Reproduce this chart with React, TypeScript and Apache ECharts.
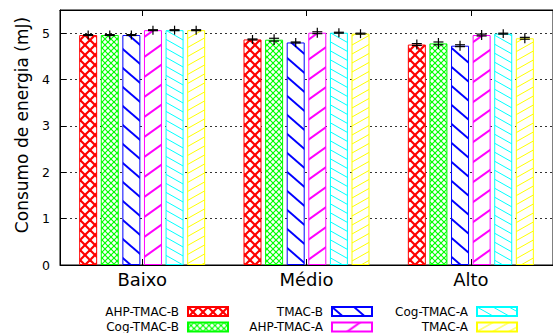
import React, { useEffect, useRef } from "react";
import * as echarts from "echarts";

const categories = ["Baixo", "Médio", "Alto"];
const seriesNames = ["AHP-TMAC-B", "Cog-TMAC-B", "TMAC-B", "AHP-TMAC-A", "Cog-TMAC-A", "TMAC-A"];
const ahpTmacB = [4.96, 4.865, 4.755];
const cogTmacB = [4.96, 4.86, 4.78];
const tmacB = [4.96, 4.8, 4.73];
const ahpTmacA = [5.065, 5.01, 4.96];
const cogTmacA = [5.065, 5.01, 4.99];
const tmacA = [5.065, 4.99, 4.89];
const ahpTmacBErr = [0.01, 0.01, 0.02];
const cogTmacBErr = [0.01, 0.03, 0.03];
const tmacBErr = [0.01, 0.01, 0.02];
const ahpTmacAErr = [0.01, 0.02, 0.02];
const cogTmacAErr = [0.01, 0.01, 0.01];
const tmacAErr = [0.01, 0.01, 0.02];
const yTicks = [0, 1, 2, 3, 4, 5];

const values = [ahpTmacB, cogTmacB, tmacB, ahpTmacA, cogTmacA, tmacA];
const errors = [ahpTmacBErr, cogTmacBErr, tmacBErr, ahpTmacAErr, cogTmacAErr, tmacAErr];
const colors = ["#ff0000", "#00ff00", "#0000ff", "#ff00ff", "#00ffff", "#ffff00"];

type Kind = "cross" | "back" | "fwd";
const patternSpecs: { kind: Kind; w: number; h: number; lw: number }[] = [
  { kind: "cross", w: 10, h: 10, lw: 2.2 },
  { kind: "cross", w: 6, h: 6, lw: 1.2 },
  { kind: "back", w: 22, h: 19, lw: 2 },
  { kind: "fwd", w: 28, h: 20, lw: 2 },
  { kind: "back", w: 16, h: 9, lw: 1 },
  { kind: "fwd", w: 16, h: 9, lw: 1 },
];

function makePattern(color: string, spec: { kind: Kind; w: number; h: number; lw: number }) {
  const { kind, w, h, lw } = spec;
  const c = document.createElement("canvas");
  c.width = w;
  c.height = h;
  const ctx = c.getContext("2d")!;
  ctx.fillStyle = "#ffffff";
  ctx.fillRect(0, 0, w, h);
  ctx.strokeStyle = color;
  ctx.lineWidth = lw;
  const drawBack = () => {
    for (let k = -1; k <= 1; k++) {
      ctx.beginPath();
      ctx.moveTo(-w, -h + k * h);
      ctx.lineTo(2 * w, 2 * h + k * h);
      ctx.stroke();
    }
  };
  const drawFwd = () => {
    for (let k = -1; k <= 1; k++) {
      ctx.beginPath();
      ctx.moveTo(-w, 2 * h + k * h);
      ctx.lineTo(2 * w, -h + k * h);
      ctx.stroke();
    }
  };
  if (kind === "cross") {
    drawBack();
    drawFwd();
  } else if (kind === "back") drawBack();
  else drawFwd();
  return { image: c, repeat: "repeat", imageWidth: w, imageHeight: h };
}

const BAR_W = 18;
const PITCH = 21.6;

export default function App() {
  const ref = useRef<HTMLDivElement>(null);
  useEffect(() => {
    if (!ref.current) return;
    const chart = echarts.init(ref.current, undefined, { renderer: "svg" });
    const font = "DejaVu Sans";
    const barSeries = seriesNames.map((name, i) => ({
      type: "bar",
      name,
      data: values[i],
      barWidth: BAR_W,
      barGap: "20%",
      itemStyle: {
        color: makePattern(colors[i], patternSpecs[i]),
        borderColor: colors[i],
        borderWidth: 1,
      },
      z: 2,
    }));
    const errData: number[][] = [];
    seriesNames.forEach((_, si) => {
      categories.forEach((_, ci) => {
        errData.push([ci, values[si][ci], errors[si][ci], si]);
      });
    });
    const legendCommon = {
      orient: "vertical",
      align: "right",
      itemWidth: 40,
      itemHeight: 9,
      itemGap: 3.5,
      padding: 0,
      icon: "rect",
      selectedMode: false,
      textStyle: { fontFamily: font, fontSize: 12, color: "#000", padding: [0, 4, 0, 0] },
    };
    chart.setOption({
      animation: false,
      grid: {
        left: 60,
        top: 10,
        width: 495,
        height: 255,
        show: true,
        borderColor: "#000",
        borderWidth: 1,
      },
      xAxis: [
        {
          type: "category",
          data: categories,
          axisLine: { show: true, lineStyle: { color: "#000", width: 1 } },
          axisTick: { show: true, inside: true, alignWithLabel: true, length: 6, lineStyle: { color: "#000" } },
          axisLabel: { fontFamily: font, fontSize: 18, color: "#000", margin: 5 },
          splitLine: { show: false },
        },
        {
          type: "category",
          data: categories,
          position: "top",
          axisLine: { show: true, lineStyle: { color: "#000", width: 1 } },
          axisTick: { show: true, inside: true, alignWithLabel: true, length: 6, lineStyle: { color: "#000" } },
          axisLabel: { show: false },
          splitLine: { show: false },
        },
      ],
      yAxis: {
        type: "value",
        min: 0,
        max: 5.5,
        interval: 1,
        axisLine: { show: true, lineStyle: { color: "#000" } },
        axisTick: { show: true, inside: true, length: 6, lineStyle: { color: "#000" } },
        axisLabel: {
          fontFamily: font,
          fontSize: 12.5,
          color: "#000",
          margin: 10,
          showMaxLabel: false,
          formatter: (v: number) => (yTicks.indexOf(v) >= 0 ? String(v) : ""),
        },
        splitLine: { show: true, lineStyle: { color: "#333", type: [2, 3], width: 1 } },
      },
      legend: [
        { ...legendCommon, right: 553 - 229, top: 305.5, data: [seriesNames[0], seriesNames[1]] },
        { ...legendCommon, right: 553 - 373, top: 305.5, data: [seriesNames[2], seriesNames[3]] },
        { ...legendCommon, right: 553 - 518, top: 305.5, data: [seriesNames[4], seriesNames[5]] },
      ],
      graphic: [
        {
          type: "text",
          x: 22,
          y: 125,
          rotation: Math.PI / 2,
          style: {
            text: "Consumo de energia (mJ)",
            fontFamily: font,
            fontSize: 17,
            fill: "#000",
            align: "center",
            verticalAlign: "middle",
          },
        },
      ],
      series: [
        ...barSeries,
        {
          type: "custom",
          name: "errorbars",
          data: errData,
          z: 5,
          renderItem: (params: any, api: any) => {
            const cat = api.value(0);
            const v = api.value(1);
            const e = api.value(2);
            const si = api.value(3);
            const c = api.coord([cat, v]);
            const x = c[0] + (si - 2.5) * PITCH;
            const yT = api.coord([cat, v + e])[1];
            const yB = api.coord([cat, v - e])[1];
            const st = { stroke: "#000", lineWidth: 1.2 };
            return {
              type: "group",
              children: [
                { type: "line", shape: { x1: x, y1: yT - 4, x2: x, y2: yB + 4 }, style: st },
                { type: "line", shape: { x1: x - 5, y1: yT, x2: x + 5, y2: yT }, style: st },
                { type: "line", shape: { x1: x - 5, y1: yB, x2: x + 5, y2: yB }, style: st },
              ],
            };
          },
        },
      ],
    });
    return () => chart.dispose();
  }, []);
  return <div ref={ref} style={{ width: 553, height: 333, position: "absolute", left: 0, top: 0 }} />;
}
